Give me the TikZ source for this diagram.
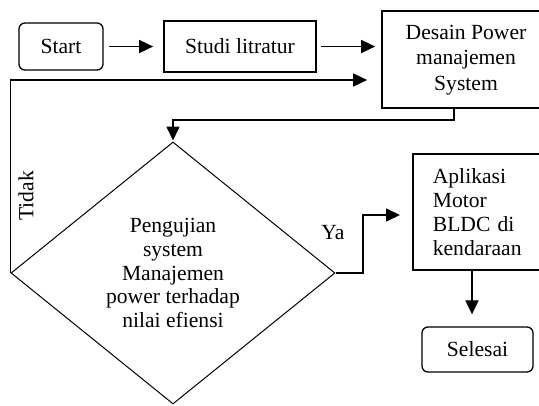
\documentclass[tikz,border=0pt]{standalone}
\usepackage{fontspec}
\setmainfont{Liberation Serif}
\usetikzlibrary{shapes.geometric,arrows.meta,calc}
\newlength\kwid
\begin{document}
\begin{tikzpicture}[x=1pt,y=-1pt,
  font=\fontsize{21.6}{24}\selectfont,
  box/.style={draw,line width=1.7pt,inner sep=0pt},
  rbox/.style={draw,line width=1.3pt,rounded corners=6pt,inner sep=0pt},
  decision/.style={diamond,draw,line width=1pt,inner sep=0pt,aspect=1.237,align=center},
  arr/.style={line width=1.7pt,-{Triangle[length=14pt,width=13pt]}}]
\useasboundingbox (0,0) rectangle (539,405);
\clip (0,0) rectangle (539,405);

\node[rbox,minimum width=84pt,minimum height=47pt] (start) at (61,46.5) {Start};
\node[box,minimum width=152pt,minimum height=51pt] (studi) at (240,46.5) {Studi litratur};
\node[box,minimum width=190pt,minimum height=97pt,align=center,font=\fontsize{21.6}{25.5}\selectfont] (desain) at (477,59.5) {\hspace*{-22pt}\begin{tabular}{@{}c@{}}Desain Power\\manajemen\\System\end{tabular}};
\node[decision,minimum width=324pt,minimum height=262pt,font=\fontsize{21.6}{23.6}\selectfont] (dia) at (173,273) {Pengujian\\system\\Manajemen\\power terhadap\\nilai efiensi};
\node[box,anchor=west,minimum width=160pt,minimum height=116pt,text width=120pt,inner xsep=20pt,align=left] (apl) at (412,212) {Aplikasi\\Motor\\\settowidth\kwid{kendaraan}\makebox[\kwid][s]{BLDC di}\\kendaraan};
\node[rbox,minimum width=111pt,minimum height=45pt] (sel) at (477.5,349.5) {Selesai};

\node[rotate=90] (tidak) at (26,196) {Tidak};
\node (ya) at (333,233) {Ya};

\coordinate (fbt) at ($(desain.west)+(0,20.5)$);
\coordinate (dout) at ($(desain.west)+(73,48.5)$);
\coordinate (ybend) at ($(apl.west)+(-49,3)$);
\coordinate (yin) at ($(apl.west)+(0,3)$);
\coordinate (selin) at ($(sel.north)+(-5.5,0)$);

\draw[arr,shorten <=5pt,shorten >=10pt] (start) -- (studi);
\draw[arr,shorten <=4pt,shorten >=6pt] (studi.east) -- (studi.east -| desain.west);
\draw[arr,shorten >=14pt] (dia.west) |- (fbt);
\draw[arr,shorten >=1pt] (dout) -- ++(0,12) -| (dia.north);
\draw[arr,shorten >=12pt] (dia.east) -| (ybend) -- (yin);
\draw[arr,shorten >=12pt] (selin |- apl.south) -- (selin);
\end{tikzpicture}
\end{document}
